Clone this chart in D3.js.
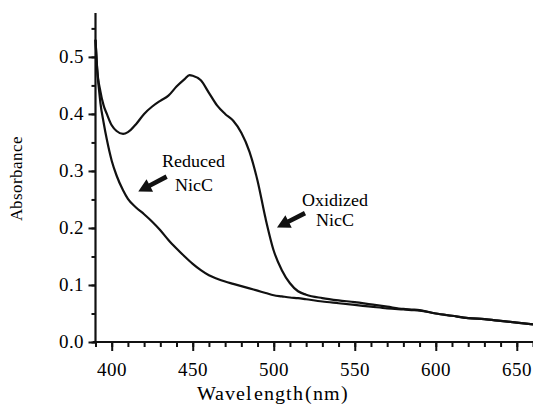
<!DOCTYPE html>
<html><head>
<script src="https://cdn.jsdelivr.net/npm/d3@7"></script>
<style>
@font-face{font-family:"ChartSerif";src:local("Liberation Serif"),local("LiberationSerif"),local("LiberationSerif-Regular"),local("Tinos"),local("Times New Roman");}
</style>
</head>
<body style="margin:0;background:#fff">
<script>
// ---- data ----
const wavelengths = [390,391,393,395,397,400,403,407,410,415,420,425,430,435,440,445,448,450,455,460,465,470,475,480,485,490,495,500,505,510,515,520,530,540,550,560,570,580,585,590,600,610,620,630,640,650,660];
const oxidized = [0.53,0.48,0.44,0.415,0.40,0.38,0.37,0.365,0.368,0.382,0.40,0.413,0.423,0.432,0.448,0.461,0.468,0.467,0.459,0.437,0.415,0.40,0.388,0.367,0.334,0.283,0.216,0.160,0.126,0.103,0.089,0.083,0.077,0.073,0.070,0.066,0.062,0.058,0.057,0.056,0.050,0.046,0.042,0.040,0.037,0.034,0.031];
const reduced = [0.53,0.48,0.42,0.385,0.355,0.318,0.292,0.266,0.251,0.236,0.224,0.211,0.196,0.179,0.164,0.150,0.142,0.137,0.126,0.117,0.111,0.106,0.102,0.098,0.094,0.090,0.086,0.082,0.080,0.078,0.077,0.075,0.071,0.068,0.065,0.062,0.059,0.057,0.056,0.055,0.050,0.046,0.042,0.040,0.037,0.034,0.031];
const xTicks = [400,450,500,550,600,650];
const yTicks = [0.0,0.1,0.2,0.3,0.4,0.5];
const annotations = [
  {lines:["Reduced","NicC"], textW:450.5, textA:[0.307,0.265], tip:[416.4,0.264], tail:[433.9,0.290]},
  {lines:["Oxidized","NicC"], textW:537.7, textA:[0.239,0.204], tip:[502,0.201], tail:[519.3,0.226]}
];

// ---- chart ----
const FONT="ChartSerif, 'Liberation Serif', Tinos, 'Times New Roman', serif";
const svg=d3.select("body").append("svg").attr("width",533).attr("height",412);
const x=d3.scaleLinear().domain([390,660]).range([95.5,533]);
const y=d3.scaleLinear().domain([0,0.577]).range([342,13]);
const fmtY=d3.format(".1f"), fmtX=d3.format("d");

// curves
const line=d3.line().x(d=>x(d[0])).y(d=>y(d[1])).curve(d3.curveMonotoneX);
[oxidized,reduced].forEach(s=>{
  svg.append("path").datum(wavelengths.map((w,i)=>[w,s[i]]))
    .attr("d",line).attr("fill","none").attr("stroke","#111")
    .attr("stroke-width",2.2).attr("stroke-linejoin","round");
});

// axes (tick marks via d3.axis)
function ticks(axis,tr,vals,size){
  const g=svg.append("g").attr("transform",tr);
  g.call(axis.tickValues(vals).tickSize(size).tickFormat(""));
  g.select(".domain").remove();
  g.attr("font-family",null).attr("font-size",null);
  g.selectAll("line").attr("stroke","#111").attr("stroke-width",2);
  return g;
}
ticks(d3.axisBottom(x),`translate(0,${y(0)})`,d3.range(390,661,10),5);
ticks(d3.axisBottom(x),`translate(0,${y(0)})`,xTicks,9);
ticks(d3.axisLeft(y),`translate(${x(390)},0)`,d3.range(0,0.56,0.05),4);
ticks(d3.axisLeft(y),`translate(${x(390)},0)`,yTicks,7);
svg.append("line").attr("x1",93).attr("x2",533).attr("y1",y(0)).attr("y2",y(0)).attr("stroke","#111").attr("stroke-width",2.2);
svg.append("line").attr("x1",x(390)).attr("x2",x(390)).attr("y1",13).attr("y2",y(0)+1).attr("stroke","#111").attr("stroke-width",2.2);

// tick labels
xTicks.forEach(v=>{
  svg.append("text").attr("x",x(v)).attr("y",y(0)+34).attr("font-size",19).attr("text-anchor","middle")
    .style("font-family",FONT).text(fmtX(v));
});
yTicks.forEach(v=>{
  svg.append("text").attr("x",x(390)-12).attr("y",y(v)+6).attr("font-size",19).attr("text-anchor","end")
    .style("font-family",FONT).text(fmtY(v));
});

// axis titles
svg.append("text").attr("x",273).attr("y",400).attr("font-size",20).attr("text-anchor","middle")
  .style("font-family",FONT).style("letter-spacing","1.2px").text("Wavelength(nm)");
svg.append("text").attr("transform","translate(22,178) rotate(-90)").attr("font-size",17).attr("text-anchor","middle")
  .style("font-family",FONT).text("Absorbance");

// annotations
annotations.forEach(a=>{
  a.lines.forEach((t,i)=>{
    svg.append("text").attr("x",x(a.textW)).attr("y",y(a.textA[i])).attr("font-size",18).attr("text-anchor","middle")
      .style("font-family",FONT).text(t);
  });
  const tx=x(a.tip[0]),ty=y(a.tip[1]),sx=x(a.tail[0]),sy=y(a.tail[1]);
  const dx=tx-sx,dy=ty-sy,L=Math.hypot(dx,dy),ux=dx/L,uy=dy/L,px=-uy,py=ux;
  const hl=13,hw=7,sw=2.3;
  const bx=tx-ux*hl,by=ty-uy*hl;
  const pts=[[sx+px*sw,sy+py*sw],[bx+px*sw,by+py*sw],[bx+px*hw,by+py*hw],[tx,ty],[bx-px*hw,by-py*hw],[bx-px*sw,by-py*sw],[sx-px*sw,sy-py*sw]];
  svg.append("path").attr("d","M"+pts.map(p=>p.join(",")).join("L")+"Z").attr("fill","#111");
});
</script>
</body></html>
